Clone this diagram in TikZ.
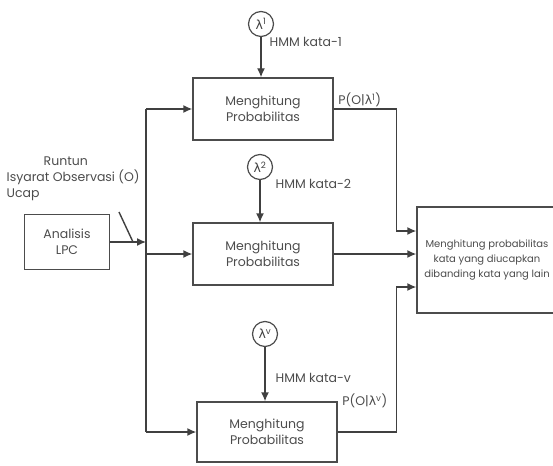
\documentclass[tikz,border=0pt]{standalone}
\usepackage{fontspec}
\setmainfont{Poppins}
\newfontfamily\greekfont{DejaVu Sans}
\usetikzlibrary{arrows.meta}

\newcommand{\lam}[1]{{\greekfont λ}\textsuperscript{#1}}

\tikzset{
  box/.style={draw=black!70, line width=1.4pt, text=black!70, rectangle, align=center},
  lam/.style={circle, draw=black!70, line width=1.2pt, text=black!75, minimum size=25pt, inner sep=0pt},
  line/.style={black!75, line width=1.4pt},
  tag/.style={text=black!70, inner sep=1pt}
}

\begin{document}
\begin{tikzpicture}[x=1pt, y=-1pt, >={Latex[length=9pt,width=8pt]}, font=\fontsize{12.5}{16}\selectfont]
  \useasboundingbox (0,0) rectangle (553,465);

  \begin{scope}[line]
    \node[box, minimum width=85pt, minimum height=55pt] (lpc) at (67,242) {Analisis\\LPC};
    \node[box, minimum width=140pt, minimum height=62pt] (hitung1) at (263,109) {Menghitung\\Probabilitas};
    \node[box, minimum width=140pt, minimum height=62pt] (hitung2) at (263,254) {Menghitung\\Probabilitas};
    \node[box, minimum width=140pt, minimum height=60pt] (hitung3) at (267,432) {Menghitung\\Probabilitas};
    \node[box, minimum width=140pt, minimum height=106pt, font=\fontsize{10}{15}\selectfont] (banding) at (487,260)
      {Menghitung probabilitas\\kata yang diucapkan\\dibanding kata yang lain};

    \node[lam] (lam1) at (261,24) {\lam{1}};
    \node[lam] (lam2) at (260,167) {\lam{2}};
    \node[lam] (lamv) at (265,334) {\lam{v}};

    \node[tag, anchor=west] at (268,42) {HMM kata-1};
    \node[tag, anchor=west] at (274,184) {HMM kata-2};
    \node[tag, anchor=west] at (274,378) {HMM kata-v};
    \node[tag, anchor=south west] at ([xshift=3pt]hitung1.east) {P(O|\lam{1})};
    \node[tag, anchor=west] at ([xshift=3pt]hitung3.north east) {P(O|\lam{v})};
    \node[tag, anchor=north west, align=left] (runtun) at (5,155) {\hspace*{37pt}Runtun\\Isyarat Observasi (O)\\Ucap};

    % spine from the LPC output to the three boxes
    \coordinate (top) at (146,109);
    \coordinate (bot) at (146,432);
    \draw (top) -- (bot);
    \draw[->] (lpc.east) -- (lpc.east -| top);
    \draw[->] (top) -- (hitung1.west);
    \draw[->] (top |- hitung2.west) -- (hitung2.west);
    \draw[->] (bot) -- (hitung3.west);

    % models into the boxes
    \draw[->] (lam1) -- (lam1 |- hitung1.north);
    \draw[->] (lam2) -- (lam2 |- hitung2.north);
    \draw[->] (lamv) -- (lamv |- hitung3.north);

    % results into the comparison
    \draw[->] (hitung1.east) -- ++(63,0) |- ([yshift=29pt]banding.west);
    \draw[->] (hitung2.east) -- (banding.west |- hitung2.east);
    \draw[->] (hitung3.east) -- ++(59,0) |- ([yshift=-27pt]banding.west);

    \coordinate (tick) at (119,212);
    \draw (tick) -- ++(14,30);
  \end{scope}
\end{tikzpicture}
\end{document}
